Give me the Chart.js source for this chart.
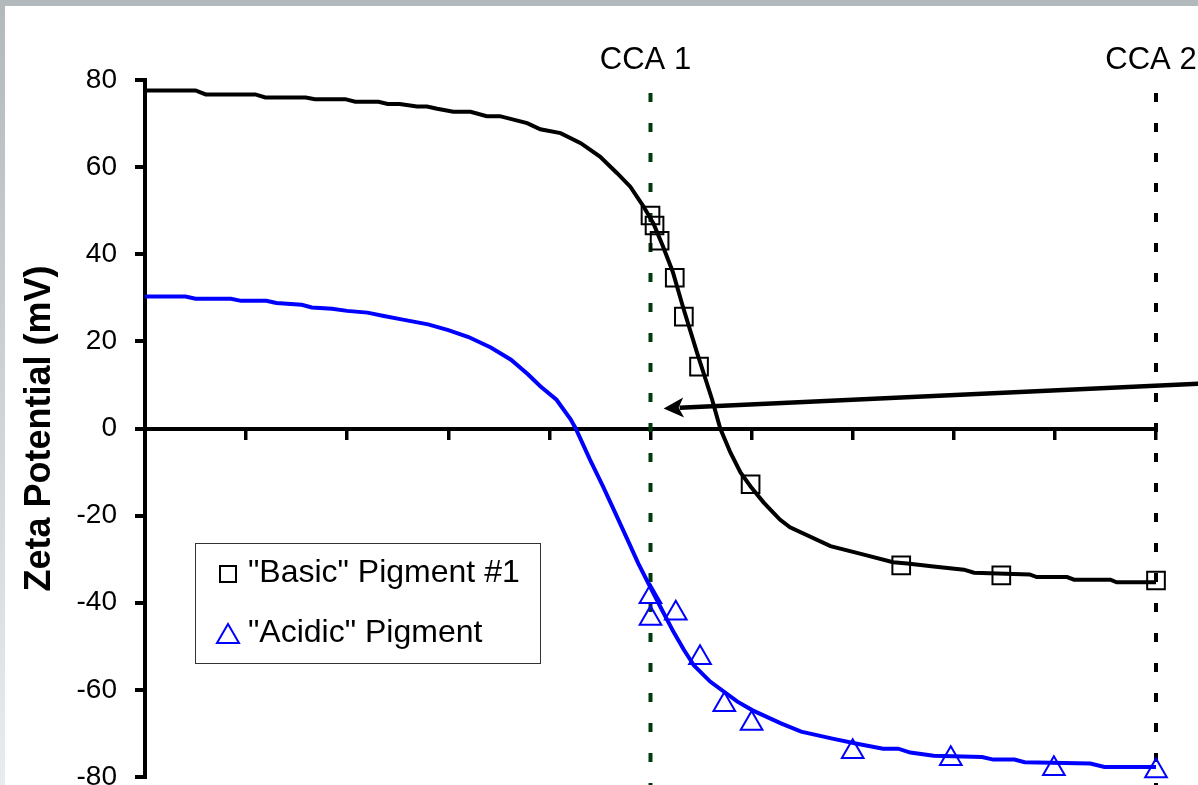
<!DOCTYPE html>
<html>
<head>
<meta charset="utf-8">
<script src="https://cdn.jsdelivr.net/npm/chart.js@4.4.1/dist/chart.umd.min.js"></script>
<style>
  html, body { margin: 0; padding: 0; }
  body { width: 1198px; height: 785px; overflow: hidden; position: relative;
    background: linear-gradient(#b2b9bd, #e9ecee); }
  #sheet { position: absolute; left: 5px; top: 6px; right: 0; bottom: 0; background: #fff; }
  #chart { position: absolute; left: 0; top: 0; }
</style>
</head>
<body>
<div id="sheet"></div>
<canvas id="chart" width="1198" height="785"></canvas>
<script>
// "Basic" pigment #1 - fitted curve
const basicCurveX = [0, 0.5, 0.6, 1.09, 1.19, 1.59, 1.68, 1.98, 2.08, 2.31, 2.4, 2.52, 2.69, 2.79, 2.89, 3.05,
  3.22, 3.38, 3.51, 3.78, 3.91, 4.11, 4.31, 4.5, 4.67, 4.8, 4.93, 5.03, 5.12, 5.22, 5.32, 5.46, 5.61,
  5.69, 5.79, 5.89, 5.99, 6.12, 6.28, 6.38, 6.78, 7.1, 7.4, 7.54, 7.8, 8.1, 8.2, 8.75, 8.82, 9.12, 9.19, 9.55, 9.61, 10];
const basicCurveY = [77.6, 77.6, 76.7, 76.7, 76.0, 76.0, 75.6, 75.6, 75.0, 75.0, 74.5, 74.5, 73.9, 73.9, 73.4, 72.7,
  72.7, 71.7, 71.7, 70.1, 68.7, 67.8, 65.5, 62.4, 58.6, 55.5, 51.0, 47.0, 42.0, 36.0, 28.0, 17.4, 6.6,
  0, -5.5, -10.1, -13.3, -17.0, -20.9, -22.7, -27.0, -28.9, -30.7, -31.0, -31.7, -32.4, -33.1, -33.5, -34.1, -34.1, -34.7, -34.7, -35.3, -35.3];
// "Basic" pigment #1 - measured points
const basicPointsX = [5.0, 5.04, 5.09, 5.24, 5.33, 5.48, 5.99, 7.48, 8.47, 10];
const basicPointsY = [48.9, 46.6, 43.1, 34.6, 25.7, 14.2, -12.8, -31.4, -33.7, -34.9];

// "Acidic" pigment - fitted curve
const acidicCurveX = [0, 0.4, 0.5, 0.85, 0.95, 1.2, 1.3, 1.55, 1.65, 1.85, 2.0, 2.2, 2.35, 2.55, 2.8, 3.0,
  3.2, 3.42, 3.62, 3.79, 3.91, 4.07, 4.21, 4.26, 4.4, 4.53, 4.65, 4.77, 4.88, 5.0, 5.11, 5.23, 5.33, 5.43, 5.59,
  5.86, 6.01, 6.29, 6.49, 6.8, 7.03, 7.3, 7.45, 7.57, 7.8, 8.28, 8.39, 8.6, 8.7, 9.35, 9.49, 10];
const acidicCurveY = [30.3, 30.3, 29.8, 29.8, 29.3, 29.3, 28.8, 28.4, 27.8, 27.5, 27.0, 26.6, 25.9, 25.0, 23.9, 22.6,
  21.0, 18.6, 15.8, 12.4, 9.7, 6.6, 2.1, 0, -7.1, -13.3, -19.3, -25.4, -31.0, -36.5, -41.5, -46.8, -50.8, -54.4, -58.1,
  -62.7, -64.7, -67.7, -69.6, -71.2, -72.3, -73.5, -73.5, -74.4, -75.1, -75.4, -76.0, -76.0, -76.6, -76.9, -77.7, -77.7];
// "Acidic" pigment - measured points
const acidicPointsX = [5.0, 5.0, 5.25, 5.49, 5.73, 6.0, 7.0, 7.97, 8.99, 10];
const acidicPointsY = [-38.6, -43.6, -42.4, -52.6, -63.4, -67.7, -74.2, -75.8, -78.1, -78.6];

const seriesLabels = ['"Basic" Pigment #1', '"Acidic" Pigment'];
const yRange = [-80, 80];
const yStep = 20;
const xRange = [0, 10];
const xStep = 1;

// critical charge annotations
const ccaX = [5, 10];
const ccaLabels = ['CCA 1', 'CCA 2'];
const ccaColors = ['#013a0c', '#000000'];
const arrowFrom = [10.42, 10.3];
const arrowTo = [5.13, 4.6];

const zip = (xs, ys) => xs.map((x, i) => ({ x: x, y: ys[i] }));

const annotations = {
  id: 'annotations',
  beforeDatasetsDraw(chart) {
    const { ctx, chartArea, scales: { x } } = chart;
    ctx.save();
    ctx.lineWidth = 4;
    ctx.setLineDash([9, 21]);
    ccaX.forEach((v, i) => {
      const px = x.getPixelForValue(v);
      ctx.strokeStyle = ccaColors[i];
      ctx.beginPath();
      ctx.moveTo(px, chartArea.top + 13);
      ctx.lineTo(px, chart.height);
      ctx.stroke();
    });
    ctx.restore();
  },
  afterDraw(chart) {
    const { ctx, chartArea, scales: { x, y } } = chart;
    ctx.save();

    // CCA labels
    ctx.fillStyle = '#000';
    ctx.font = '31px "Liberation Sans", Arial, sans-serif';
    ctx.textAlign = 'center';
    ctx.textBaseline = 'middle';
    ccaX.forEach((v, i) => {
      ctx.fillText(ccaLabels[i], x.getPixelForValue(v) - 5, chartArea.top - 20);
    });

    // arrow
    const x1 = x.getPixelForValue(arrowFrom[0]), y1 = y.getPixelForValue(arrowFrom[1]);
    const x2 = x.getPixelForValue(arrowTo[0]), y2 = y.getPixelForValue(arrowTo[1]);
    const ang = Math.atan2(y2 - y1, x2 - x1);
    const headLen = 20, headW = 10;
    const bx = x2 - Math.cos(ang) * headLen, by = y2 - Math.sin(ang) * headLen;
    ctx.strokeStyle = '#000';
    ctx.lineWidth = 4.5;
    ctx.beginPath();
    ctx.moveTo(x1, y1);
    ctx.lineTo(bx + Math.cos(ang) * 4, by + Math.sin(ang) * 4);
    ctx.stroke();
    ctx.beginPath();
    ctx.moveTo(x2, y2);
    ctx.lineTo(bx - Math.sin(ang) * headW, by + Math.cos(ang) * headW);
    ctx.lineTo(bx + Math.cos(ang) * 5, by + Math.sin(ang) * 5);
    ctx.lineTo(bx + Math.sin(ang) * headW, by - Math.cos(ang) * headW);
    ctx.closePath();
    ctx.fillStyle = '#000';
    ctx.fill();

    // legend box
    const lx = 195, ly = 543, lw = 345, lh = 120;
    ctx.fillStyle = '#fff';
    ctx.fillRect(lx, ly, lw, lh);
    ctx.strokeStyle = '#333';
    ctx.lineWidth = 1;
    ctx.strokeRect(lx + 0.5, ly + 0.5, lw, lh);

    const markerDs = chart.data.datasets.filter(d => !d.showLine);
    const rowsY = [574, 634];
    ctx.font = '32px "Liberation Sans", Arial, sans-serif';
    ctx.textAlign = 'left';
    ctx.textBaseline = 'alphabetic';
    markerDs.forEach((d, i) => {
      const cx = 228, cy = rowsY[i];
      ctx.strokeStyle = d.borderColor;
      ctx.lineWidth = 2;
      ctx.beginPath();
      if (d.pointStyle === 'rect') {
        ctx.rect(cx - 8, cy - 8, 16, 16);
      } else {
        ctx.moveTo(cx, cy - 10);
        ctx.lineTo(cx + 11, cy + 9);
        ctx.lineTo(cx - 11, cy + 9);
        ctx.closePath();
      }
      ctx.stroke();
      ctx.fillStyle = '#000';
      ctx.fillText(d.label, 248, cy + 8);
    });
    ctx.restore();
  }
};

new Chart(document.getElementById('chart'), {
  type: 'scatter',
  data: {
    datasets: [
      {
        label: seriesLabels[0] + ' fit',
        data: zip(basicCurveX, basicCurveY),
        showLine: true,
        borderColor: '#000000',
        borderWidth: 4,
        pointRadius: 0,
        tension: 0
      },
      {
        label: seriesLabels[1] + ' fit',
        data: zip(acidicCurveX, acidicCurveY),
        showLine: true,
        borderColor: '#0000ff',
        borderWidth: 4,
        pointRadius: 0,
        tension: 0
      },
      {
        label: seriesLabels[0],
        data: zip(basicPointsX, basicPointsY),
        showLine: false,
        pointStyle: 'rect',
        pointRadius: 12.5,
        borderColor: '#000000',
        backgroundColor: 'rgba(0,0,0,0)',
        pointBorderWidth: 2
      },
      {
        label: seriesLabels[1],
        data: zip(acidicPointsX, acidicPointsY),
        showLine: false,
        pointStyle: 'triangle',
        pointRadius: 12.5,
        borderColor: '#0000ff',
        backgroundColor: 'rgba(0,0,0,0)',
        pointBorderWidth: 2
      }
    ]
  },
  options: {
    responsive: false,
    animation: false,
    clip: false,
    layout: { autoPadding: false, padding: { left: 0, top: 80, right: 42, bottom: 8 } },
    plugins: { legend: { display: false }, tooltip: { enabled: false } },
    scales: {
      x: {
        type: 'linear',
        min: xRange[0],
        max: xRange[1],
        position: { y: 0 },
        ticks: { stepSize: xStep, display: false },
        grid: { drawOnChartArea: false, tickLength: 9, lineWidth: 3.5, color: '#000' },
        border: { width: 4, color: '#000' },
        afterFit(scale) {
          scale.height = 0;
          scale.paddingLeft = 0;
          scale.paddingRight = 0;
          scale.paddingTop = 0;
          scale.paddingBottom = 0;
        }
      },
      y: {
        type: 'linear',
        min: yRange[0],
        max: yRange[1],
        ticks: {
          stepSize: yStep,
          padding: 18,
          color: '#000',
          font: { family: '"Liberation Sans", Arial, sans-serif', size: 28 }
        },
        grid: { drawOnChartArea: false, tickLength: 10, lineWidth: 4, color: '#000' },
        border: { width: 4, color: '#000' },
        title: {
          display: true,
          text: 'Zeta Potential (mV)',
          color: '#000',
          padding: { top: 18, bottom: 0 },
          font: { family: '"Liberation Sans", Arial, sans-serif', size: 36, weight: 'bold', lineHeight: 1.2 }
        },
        afterFit(scale) {
          scale.width = 145;
          scale.paddingTop = 0;
          scale.paddingBottom = 0;
        }
      }
    }
  },
  plugins: [annotations]
});
</script>
</body>
</html>
